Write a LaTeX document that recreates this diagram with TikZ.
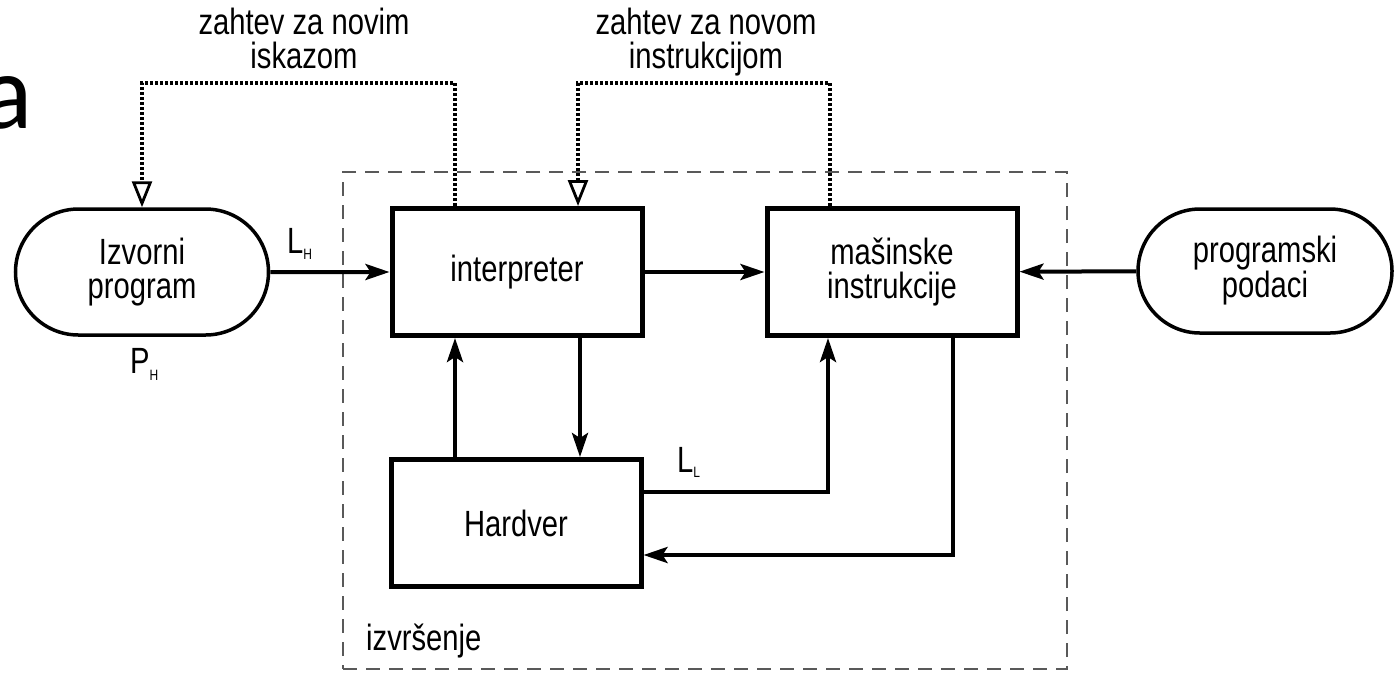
\documentclass[tikz,border=0pt]{standalone}
\usepackage{fontspec}
\setmainfont{Liberation Sans}[FakeStretch=0.8]
\newfontfamily\slidefont{Carlito}
\usetikzlibrary{arrows.meta,shapes.misc}
\begin{document}
\begin{tikzpicture}[x=1pt,y=-1pt,
  every node/.style={font=\fontsize{36.5}{33.5}\selectfont, text=black},
  blk/.style={draw, line width=5pt, minimum width=250pt, minimum height=127pt, inner sep=0pt, align=center},
  term/.style={draw, rounded rectangle, line width=3.5pt, minimum width=253pt, minimum height=126pt, inner sep=0pt, align=center},
  flow/.style={line width=4pt, -{Stealth[length=24pt,width=16pt,inset=5pt]}},
  req/.style={line width=4.5pt, dash pattern=on 3pt off 2pt, black,
              -{Triangle[open,length=26pt,width=20pt,line width=2.8pt]}},
  region/.style={draw, black!65, line width=1.6pt, dash pattern=on 14pt off 9pt, minimum width=724pt, minimum height=497pt, inner sep=0pt},
  lbl/.style={inner sep=0pt, anchor=base west}
]
\useasboundingbox (0,0) rectangle (1397,673);

% slide fragment
\node[inner sep=0pt, anchor=base west, font=\slidefont\fontsize{107}{107}\selectfont] (slidea) at (-19,128) {a};

% execution region
\node[region] (exec) at (705,420.5) {};
\node[lbl] (exectxt) at (366,650) {izvršenje};

% main nodes
\node[term] (src) at (142,272) {Izvorni\\program};
\node[term, minimum width=254pt, minimum height=124pt] (prog) at (1265,271) {programski\\podaci};
\node[blk] (interp) at (517,272) {interpreter};
\node[blk] (mas) at (892,272) {mašinske\\instrukcije};
\node[blk] (hw) at (516,523) {Hardver};

% labels
\node[inner sep=0pt, anchor=base, align=center] (req1) at (304,68) {zahtev za novim\\iskazom};
\node[inner sep=0pt, anchor=base, align=center] (req2) at (706,68) {zahtev za novom\\instrukcijom};
\node[lbl] (lh) at (287,253) {L\raisebox{-6pt}{\fontsize{15}{15}\selectfont H}};
\node[lbl] (ll) at (677,472) {L\raisebox{-5pt}{\fontsize{15}{15}\selectfont L}};
\node[lbl] (ph) at (130,373) {P\raisebox{-7pt}{\fontsize{15}{15}\selectfont H}};

% helper coordinates
\coordinate (xa) at (455,83);
\coordinate (xb) at (580,0);
\coordinate (xl) at (828,492);
\coordinate (xr) at (953,555);
\coordinate (d2) at (830,83);
\coordinate (d3) at (578,0);

% solid connectors
\draw[flow] (src) -- (interp);
\draw[flow] (interp) -- (mas);
\draw[flow] (prog) -- (mas);
\draw[flow] (hw.north -| xa) -- (interp.south -| xa);
\draw[flow] (interp.south -| xb) -- (hw.north -| xb);
\draw[flow] (hw.east |- xl) -| (mas.south -| xl);
\draw[flow] (mas.south -| xr) |- (hw.east |- xr);

% request connectors
\draw[req] (interp.north -| xa) -- (xa) -| (src.north);
\draw[req] (mas.north -| d2) -- (d2) -| (interp.north -| d3);
\end{tikzpicture}
\end{document}
